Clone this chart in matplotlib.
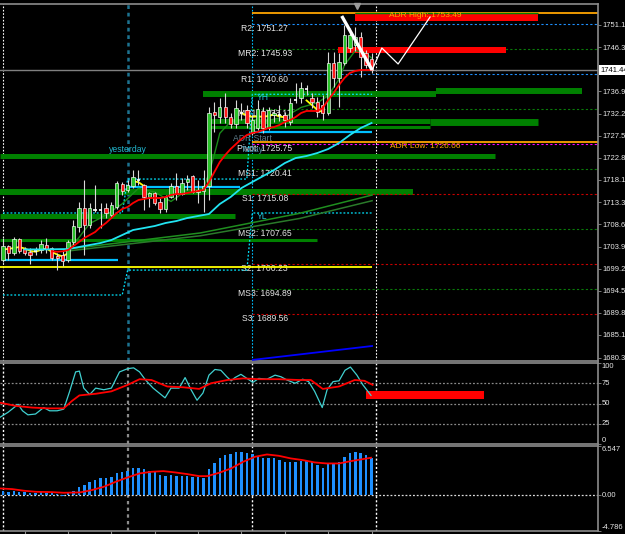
"""
Intraday gold chart with pivots, ADR zones, RSI and MACD panels (MT4 style, dark theme)
"""

import numpy as np
import matplotlib
matplotlib.use('Agg')  # no display
import matplotlib.pyplot as plt
from matplotlib.patches import Rectangle

plt.rcParams['font.family'] = ['Liberation Sans', 'DejaVu Sans']

# ---------------------------------------------------------------- price bars
opens = [1701.04, 1704.02, 1702.60, 1705.45, 1703.32, 1702.75, 1703.00, 1703.17, 1704.24, 1703.53,
         1701.90, 1702.11, 1701.04, 1704.94, 1708.13, 1712.04, 1708.49, 1711.90, 1711.90, 1712.04,
         1710.62, 1712.40, 1717.20, 1715.94, 1716.79, 1718.00, 1717.00, 1714.40, 1715.20, 1713.45,
         1711.83, 1714.51, 1716.79, 1715.09, 1717.70, 1718.90, 1715.60, 1715.80, 1716.79, 1732.53,
         1731.47, 1733.60, 1731.47, 1729.98, 1732.70, 1732.96, 1728.07, 1729.13, 1732.75, 1729.13,
         1731.90, 1731.80, 1731.90, 1730.41, 1735.00, 1735.51, 1737.30, 1735.51, 1734.66, 1734.00,
         1732.32, 1742.96, 1739.77, 1742.96, 1746.15, 1746.80, 1748.49, 1745.09, 1743.90]
highs = [1705.66, 1704.24, 1706.00, 1705.66, 1703.87, 1703.50, 1703.80, 1705.30, 1705.66, 1703.87,
         1702.47, 1703.17, 1705.30, 1709.56, 1713.45, 1718.06, 1713.20, 1717.00, 1713.10, 1713.10,
         1713.45, 1717.90, 1717.70, 1718.06, 1720.20, 1720.20, 1717.20, 1715.60, 1715.60, 1714.17,
         1714.87, 1717.36, 1719.50, 1718.40, 1719.10, 1719.10, 1718.06, 1720.20, 1733.60, 1734.66,
         1735.50, 1736.58, 1732.32, 1735.09, 1734.45, 1734.02, 1731.90, 1735.09, 1733.60, 1733.60,
         1733.20, 1734.00, 1732.50, 1735.50, 1738.70, 1738.90, 1738.30, 1736.58, 1735.70, 1736.15,
         1745.30, 1745.30, 1745.09, 1751.00, 1750.30, 1750.60, 1749.55, 1745.70, 1745.09]
lows = [1700.68, 1701.04, 1702.11, 1702.47, 1702.11, 1700.20, 1702.10, 1702.47, 1702.47, 1701.04,
        1698.92, 1699.77, 1700.68, 1704.30, 1707.00, 1702.10, 1707.90, 1711.30, 1707.80, 1709.90,
        1709.90, 1711.90, 1714.87, 1715.60, 1716.30, 1717.00, 1711.68, 1712.40, 1712.75, 1710.98,
        1711.30, 1714.17, 1713.80, 1714.87, 1715.94, 1715.20, 1713.10, 1711.30, 1713.80, 1728.30,
        1730.19, 1730.19, 1729.13, 1729.13, 1730.83, 1729.13, 1727.64, 1728.70, 1728.07, 1728.70,
        1730.40, 1730.60, 1729.30, 1729.77, 1734.45, 1734.45, 1736.15, 1733.39, 1731.47, 1730.83,
        1731.90, 1737.85, 1733.60, 1742.50, 1745.30, 1745.50, 1739.98, 1741.90, 1740.83]
closes = [1704.02, 1702.47, 1705.45, 1703.02, 1702.47, 1702.20, 1702.90, 1704.45, 1703.38, 1701.40,
          1701.40, 1700.89, 1704.94, 1708.28, 1712.04, 1708.49, 1712.04, 1711.68, 1711.75, 1711.00,
          1712.75, 1717.36, 1715.80, 1717.00, 1718.77, 1718.10, 1714.50, 1715.20, 1713.25, 1711.83,
          1714.51, 1716.79, 1715.09, 1717.50, 1718.20, 1715.60, 1715.90, 1716.79, 1732.32, 1731.90,
          1733.60, 1731.47, 1729.98, 1733.39, 1732.40, 1730.19, 1730.83, 1733.17, 1729.13, 1732.96,
          1732.30, 1731.90, 1730.83, 1734.45, 1735.09, 1737.64, 1737.40, 1734.66, 1732.53, 1732.32,
          1742.96, 1739.77, 1743.17, 1748.90, 1748.90, 1748.50, 1744.24, 1742.54, 1741.44]
last_price = 1741.44

# moving averages
N = None
red_ma = [N, N, N, N, N, N, N, N, N, 1702.9, 1702.8, 1702.9,
          1703.17, 1704.02, 1704.87, 1705.72, 1706.36, 1707.00, 1708.07, 1708.92, 1709.98, 1711.05, 1711.90, 1712.32,
          1713.17, 1713.81, 1714.02, 1714.24, 1714.24, 1714.24, 1714.45, 1714.87, 1715.09, 1715.09, 1715.30, 1715.51,
          1715.73, 1715.94, 1717.64, 1719.76, 1721.89, 1723.38, 1724.66, 1725.72, 1726.79, 1727.64, 1728.07, 1728.28,
          1728.70, 1729.13, 1729.34, 1729.77, 1730.41, 1730.83, 1731.47, 1732.32, 1732.75, 1732.75, 1732.75, 1733.39,
          1735.09, 1736.58, 1738.28, 1739.77, 1740.83, 1741.26, 1741.47, 1741.47, 1741.47]
cyan_ma_idx = [4, 6, 8, 10, 12, 14, 16, 18, 20, 22, 24, 26, 28, 30, 32, 34, 36, 38, 40, 42, 44, 46, 48, 50,
               52, 54, 56, 58, 60, 62, 64, 66, 68]
cyan_ma = [1703.3, 1703.3, 1703.3, 1703.35,
           1703.38, 1703.81, 1704.24, 1704.66, 1705.30, 1706.36, 1707.43, 1707.85, 1708.28, 1708.92,
           1709.34, 1709.98, 1710.41, 1710.83, 1712.96, 1714.45, 1716.36, 1717.64, 1718.91, 1720.18,
           1721.67, 1722.74, 1723.17, 1723.81, 1724.66, 1725.94, 1727.64, 1729.13, 1730.19]
fast_ma_idx = [12, 14, 16, 19, 22, 25, 28, 31, 34, 37, 38, 39, 40, 42, 45, 48, 52, 55, 58, 60, 62, 63, 65, 67, 68]
fast_ma = [1703.2, 1705.8, 1708.8, 1710.6, 1713.0, 1716.3, 1715.5, 1713.5, 1716.0, 1716.2, 1719.5, 1723.5,
           1728.0, 1730.5, 1731.0, 1730.5, 1731.5, 1733.5, 1734.5, 1736.0, 1739.5, 1742.5, 1745.6, 1745.0, 1744.0]
yellow_ma = [1703.3, 1703.4, 1703.6, 1703.8, 1703.5, 1703.0, 1702.8, 1703.2, 1703.5, 1702.8, 1702.2, 1701.8, 1702.5,
             N, N, N, N, N, N, N, N, N, N, N,
             1717.8, 1717.6, 1716.8,
             N, N, N, N, N, N, N, N, N, N, N, N, N, N, N, N, N,
             1732.3, 1731.8, 1731.5, 1731.6, 1731.5, 1731.7, 1732.0, 1731.6, 1731.4,
             N, N, N,
             1735.0, 1734.0, 1733.0, 1732.5,
             N, N, N, N, N, N, N, N, N]
slow_ma_idx = [11.5, 36.4, 54.8, 68.1]
slow_ma_a = [1703.3, 1706.8, 1711.0, 1714.87]
slow_ma_b = [1702.9, 1706.2, 1709.9, 1713.66]

# sessions
day_starts = [0, 23, 46]
now_bar = 68.8
last_bar = 68.1
day_open = [1701.04, 1716.6, 1728.3]
day_open_end = [21.2, 43.7, 68.1]
yest_high = [1711.05, 1718.27, 1736.30]
yest_low = [1693.60, 1698.90, 1711.05]
yellow_level = 1699.6
channel_idx = [46.1, 68.1]
channel_val = [1679.8, 1682.75]

# pivot levels for today
pivot_names = ['R2', 'MR2', 'R1', 'MR1', 'Pivot', 'MS1', 'S1', 'MS2', 'S2', 'MS3', 'S3']
pivot_values = [1751.27, 1745.93, 1740.60, 1733.17, 1725.75, 1720.41, 1715.08, 1707.65, 1700.23, 1694.89, 1689.56]
adr_high = 1753.49
adr_low = 1726.06

# supply / demand zones: price, from bar, to bar
zone_price = [1736.36, 1737.10, 1730.70, 1729.30, 1730.30, 1723.17, 1715.62, 1710.51, 1705.40]
zone_from = [36.9, 79.9, 38.2, 38.2, 78.8, -0.55, -0.55, -0.55, -0.55]
zone_to = [79.9, 106.8, 78.8, 78.8, 98.7, 90.8, 75.6, 42.8, 57.9]

# hand drawn objects
adr_box = (64.9, 98.7, 1751.9, 1753.55)
mid_box = (61.8, 92.8, 1745.15, 1746.43)
arrow_idx = [62.5, 68.1]
arrow_val = [1752.96, 1741.47]
path_idx = [68.1, 69.9, 72.9, 78.8]
path_val = [1741.47, 1746.15, 1742.75, 1752.75]

price_ticks = [1751.10, 1746.30, 1736.90, 1732.20, 1727.50, 1722.80, 1718.10, 1713.30,
               1708.60, 1703.90, 1699.20, 1694.50, 1689.80, 1685.10, 1680.30]

# ---------------------------------------------------------------- RSI
rsi_idx = [-0.55, 0.9, 2.8, 3.6, 4.6, 6.0, 7.5, 8.6, 10.0, 11.2, 12.3, 13.4, 14.1, 14.9, 16.0, 17.1, 18.6,
           20.0, 21.5, 23.0, 24.1, 25.2, 26.3, 27.7, 28.8, 29.9, 31.0, 32.5, 33.6, 34.7, 35.8, 36.9, 38.0,
           39.1, 40.2, 41.3, 42.1, 42.8, 43.9, 45.0, 46.1, 47.2, 48.7, 50.2, 51.3, 52.4, 53.9, 55.3, 56.4,
           57.5, 58.9, 59.8, 60.9, 62.0, 63.1, 64.1, 65.3, 66.4, 67.9]
rsi_val = [33, 39, 49, 41, 36, 37, 45, 41, 41, 43, 65, 89, 90, 69, 61, 69, 67, 69, 89, 93,
           94, 89, 79, 69, 63, 57, 69, 69, 82, 67, 54, 63, 85, 92, 91, 83, 78, 82, 86, 81,
           76, 81, 80, 85, 83, 79, 75, 80, 77, 65, 45, 67, 77, 78, 91, 95, 85, 73, 60]
rsi_sig_idx = [-0.55, 2.4, 5.3, 8.3, 11.2, 12.7, 14.1, 17.1, 20.0, 23.0, 25.2, 27.4, 30.3, 33.3,
               36.2, 38.4, 41.4, 44.3, 47.2, 50.9, 54.6, 56.8, 59.0, 62.0, 64.9, 66.7, 68.2]
rsi_sig_val = [51, 47, 45, 44, 44, 53, 60, 62, 65, 73, 80, 79, 71, 70, 68, 75, 79, 81, 80, 80,
               79, 79, 68, 71, 79, 78, 73]
rsi_box = (67.0, 88.8, 55.0, 65.8)

# ---------------------------------------------------------------- MACD
macd_hist = [0.53, 0.36, 0.53, 0.44, 0.36, 0.31, 0.31, 0.36, 0.31, 0.22,
             0.09, -0.09, 0.31, 0.53, 1.11, 1.33, 1.69, 2.00, 2.22, 2.31,
             2.40, 2.98, 3.11, 3.24, 3.56, 3.64, 3.42, 3.24, 3.11, 2.67,
             2.53, 2.62, 2.53, 2.53, 2.58, 2.36, 2.36, 2.22, 3.42, 4.22,
             4.89, 5.33, 5.42, 5.69, 5.78, 5.56, 5.42, 5.24, 4.98, 4.89,
             4.89, 4.67, 4.36, 4.36, 4.36, 4.53, 4.53, 4.36, 4.00, 3.56,
             4.09, 4.22, 4.44, 5.11, 5.56, 5.69, 5.56, 5.33, 4.89]
macd_sig_idx = [-0.55, 1.7, 3.9, 6.1, 9.0, 11.2, 14.2, 16.4, 18.6, 20.8, 23.0, 25.2, 27.4, 29.6, 31.8,
                34.0, 36.2, 37.7, 39.9, 42.1, 44.3, 46.5, 48.7, 50.9, 53.1, 55.3, 57.5, 59.7, 62.0,
                64.2, 66.4, 67.9]
macd_sig_val = [0.89, 0.80, 0.58, 0.44, 0.40, 0.31, 0.36, 0.67, 1.11, 1.78, 2.36, 2.89, 3.11, 3.20, 3.02,
                2.80, 2.53, 2.53, 2.98, 3.56, 4.44, 5.11, 5.42, 5.24, 4.89, 4.67, 4.36, 4.22, 4.22,
                4.53, 4.80, 4.98]
macd_max, macd_min = 6.547, -4.786

# ---------------------------------------------------------------- layout
W, H = 625, 534
XLIM = (-0.55, 109.78)
GREY = '#8c8c8c'
TXT = '#e6e6e6'
DOT = (0, (1.5, 1.5))

fig = plt.figure(figsize=(W / 100, H / 100), dpi=100)
fig.patch.set_facecolor('black')


def add_panel(top, bottom):
    a = fig.add_axes([0, 1 - bottom / H, 598 / W, (bottom - top) / H])
    a.set_facecolor('black')
    a.set_xlim(*XLIM)
    for side in ('top', 'bottom', 'right'):
        a.spines[side].set_color(GREY)
        a.spines[side].set_linewidth(1.2)
    a.spines['left'].set_visible(False)
    a.yaxis.tick_right()
    a.tick_params(axis='y', colors=GREY, labelcolor=TXT, labelsize=5.5,
                  length=2, width=0.6, pad=1.5)
    a.tick_params(axis='x', bottom=False, labelbottom=False)
    return a


ax = add_panel(4, 361)
ax_rsi = add_panel(363, 444)
ax_macd = add_panel(446, 531)

# ---------------------------------------------------------------- main panel
ax.set_ylim(1679.56, 1755.51)
ax.set_yticks(price_ticks)
ax.set_yticklabels([f'{v:.2f}' for v in price_ticks])

# session separators
ax.axvline(day_starts[0], color='white', ls=DOT, lw=0.8, zorder=1)
ax.axvline(day_starts[1], color='#1d7391', ls=DOT, lw=1.8, zorder=1)
ax.axvline(day_starts[2], color='#00bfff', ls=DOT, lw=0.8, zorder=1)
ax.axvline(now_bar, color='white', ls=DOT, lw=0.8, zorder=1)

# zones
zone_widths = [4.3, 4.3, 3.6, 2.2, 5.0, 3.6, 4.3, 3.6, 2.2]
for p, x0, x1, lw in zip(zone_price, zone_from, zone_to, zone_widths):
    ax.hlines(p, x0, x1, color='#008000', lw=lw, zorder=2)

# pivots
for name, val in zip(pivot_names, pivot_values):
    if name == 'Pivot':
        col = '#ff00ff'
    elif name.startswith('M'):
        col = '#0a7a0a'
    elif name.startswith('R'):
        col = '#1e90ff'
    else:
        col = '#c80000'
    ax.hlines(val, day_starts[2], XLIM[1], color=col, ls=(0, (2, 2)), lw=0.8, zorder=2)
    ax.text(48.3, val - 1.05, f'{name}: {val:.2f}', ha='center', va='center',
            fontsize=6.2, color=TXT, zorder=3)

# ADR lines
ax.hlines([adr_high, adr_low], day_starts[2], XLIM[1], color='#ffa500', lw=1.3, zorder=2)
ax.add_patch(Rectangle((adr_box[0], adr_box[2]), adr_box[1] - adr_box[0], adr_box[3] - adr_box[2],
                       facecolor='#ff0000', edgecolor='none', zorder=3))
ax.hlines(adr_box[3], adr_box[0], adr_box[1], color='#008000', lw=1.0, zorder=3)
ax.add_patch(Rectangle((mid_box[0], mid_box[2]), mid_box[1] - mid_box[0], mid_box[3] - mid_box[2],
                       facecolor='#ff0000', edgecolor='none', zorder=3))
ax.text(78.0, 1753.0, f'ADR High: {adr_high:.2f}', ha='center', va='center',
        fontsize=6.0, color='#ffa500', zorder=4)
ax.text(78.0, 1725.3, f'ADR Low: {adr_low:.2f}', ha='center', va='center',
        fontsize=6.0, color='#ffa500', zorder=4)

# day open lines, yesterday high / low
for s, v, e in zip(day_starts, day_open, day_open_end):
    ax.hlines(v, s, e, color='#00bfff', lw=1.6, zorder=3)
step_x, yh_y, yl_y = [], [], []
ends = [day_starts[1] - 1, day_starts[2] - 1, last_bar]
for s, e, hv, lv in zip(day_starts, ends, yest_high, yest_low):
    step_x += [s, e]
    yh_y += [hv, hv]
    yl_y += [lv, lv]
ax.plot(step_x, yh_y, color='#00e5ff', ls=DOT, lw=0.9, zorder=3)
ax.plot(step_x, yl_y, color='#00e5ff', ls=DOT, lw=0.9, zorder=3)
ax.hlines(yellow_level, XLIM[0], last_bar, color='#ffff00', lw=1.3, zorder=3)
ax.plot(channel_idx, channel_val, color='#0000ff', lw=1.3, zorder=3)

# current price line
ax.axhline(last_price, color='#808080', lw=1.0, zorder=2)

# moving averages under the candles
bar_idx = np.arange(len(opens))
ax.plot(slow_ma_idx, slow_ma_a, color='#1f8f1f', lw=1.1, zorder=4)
ax.plot(slow_ma_idx, slow_ma_b, color='#2a7a2a', lw=1.1, zorder=4)
ax.plot(fast_ma_idx, fast_ma, color='#1a8a1a', lw=1.0, zorder=4)
ax.plot(bar_idx, np.array(yellow_ma, dtype=float), color='#ffff00', lw=1.3, zorder=4)

# candles
o = np.array(opens)
c = np.array(closes)
ax.vlines(bar_idx, lows, highs, color='#d8d8d8', lw=0.8, zorder=5)
body_lo = np.minimum(o, c)
body_h = np.abs(c - o)
doji = body_h < 0.3
cols = np.where(c >= o, '#2ac22a', '#ff1a1a')
ax.bar(bar_idx[~doji], body_h[~doji], bottom=body_lo[~doji], width=0.62,
       color=cols[~doji], edgecolor='white', linewidth=0.45, zorder=6)
ax.hlines(c[doji], bar_idx[doji] - 0.31, bar_idx[doji] + 0.31, color='white', lw=1.2, zorder=6)

ax.plot(cyan_ma_idx, cyan_ma, color='#22e4f2', lw=1.3, zorder=7)
ax.plot(bar_idx, np.array(red_ma, dtype=float), color='#ff0000', lw=1.3, zorder=7)

# drawings
ax.plot(arrow_idx, arrow_val, color='white', lw=2.4, solid_capstyle='butt', zorder=8)
ax.plot(path_idx, path_val, color='white', lw=0.9, zorder=8)
ax.plot(65.3, 1755.0, marker='v', color='#9a9a9a', ms=4, clip_on=False, zorder=8)

# labels
ax.text(day_starts[1], 1724.66, 'yesterday', ha='center', va='center', fontsize=6.2, color='#22b8cf', zorder=4)
ax.text(day_starts[2], 1724.66, 'Today', ha='center', va='center', fontsize=6.2, color='#4f8fa8', zorder=3)
ax.text(day_starts[2], 1727.0, 'ADR Start', ha='center', va='center', fontsize=6.2, color='#607d8b', zorder=3)
ax.text(46.9, 1735.7, 'YH', ha='left', va='center', fontsize=6.2, color='#22c8e0', zorder=4)
ax.text(46.9, 1710.4, 'YL', ha='left', va='center', fontsize=6.2, color='#22c8e0', zorder=4)
ax.text(1.004, last_price, f'{last_price:.2f}', transform=ax.get_yaxis_transform(),
        ha='left', va='center', fontsize=5.5, color='black', clip_on=False,
        bbox=dict(boxstyle='square,pad=0.15', facecolor='white', edgecolor='none'))

# ---------------------------------------------------------------- RSI panel
ax_rsi.set_ylim(0, 100)
ax_rsi.set_yticks([100, 75, 50, 25, 0])
ax_rsi.set_yticklabels([])
for lvl in (75, 50, 25):
    ax_rsi.axhline(lvl, color='#8a8a8a', ls=DOT, lw=0.9)
for lbl, val, va in [('100', 100, 'top'), ('75', 75, 'center'), ('50', 50, 'center'),
                     ('25', 25, 'center'), ('0', 0, 'bottom')]:
    ax_rsi.text(1.006, val, lbl, transform=ax_rsi.get_yaxis_transform(), ha='left', va=va,
                fontsize=5.5, color=TXT, clip_on=False)
sub_vcols = ['white', '#8a8a8a', 'white']
for a in (ax_rsi, ax_macd):
    for s, col in zip(day_starts, sub_vcols):
        a.axvline(s, color=col, ls=DOT, lw=1.0 if col == 'white' else 1.6, zorder=1)
    a.axvline(now_bar, color='white', ls=DOT, lw=1.0, zorder=1)

ax_rsi.add_patch(Rectangle((rsi_box[0], rsi_box[2]), rsi_box[1] - rsi_box[0], rsi_box[3] - rsi_box[2],
                           facecolor='#ff0000', edgecolor='none', zorder=2))
ax_rsi.plot(rsi_idx, rsi_val, color='#40d0d0', lw=0.9, zorder=3)
ax_rsi.plot(rsi_sig_idx, rsi_sig_val, color='#ff0000', lw=1.3, zorder=4)

# ---------------------------------------------------------------- MACD panel
ax_macd.set_ylim(macd_min, macd_max)
ax_macd.set_yticks([macd_max, 0, macd_min])
ax_macd.set_yticklabels([])
ax_macd.axhline(0, color='#dddddd', ls=DOT, lw=0.9, zorder=1)
for lbl, val, va in [(f'{macd_max:.3f}', macd_max, 'top'), ('0.00', 0, 'center'),
                     (f'{macd_min:.3f}', macd_min, 'bottom')]:
    ax_macd.text(1.006, val, lbl, transform=ax_macd.get_yaxis_transform(), ha='left', va=va,
                 fontsize=5.5, color=TXT, clip_on=False)
ax_macd.bar(bar_idx, macd_hist, width=0.45, color='#1e90ff', zorder=2)
ax_macd.plot(macd_sig_idx, macd_sig_val, color='#ff0000', lw=1.3, zorder=3)
ax_macd.set_xticks(range(4, 69, 8))
ax_macd.tick_params(axis='x', bottom=True, direction='out', length=3, color=GREY, width=0.8)

fig.savefig('out.png', dpi=100, facecolor='black')
plt.close(fig)
